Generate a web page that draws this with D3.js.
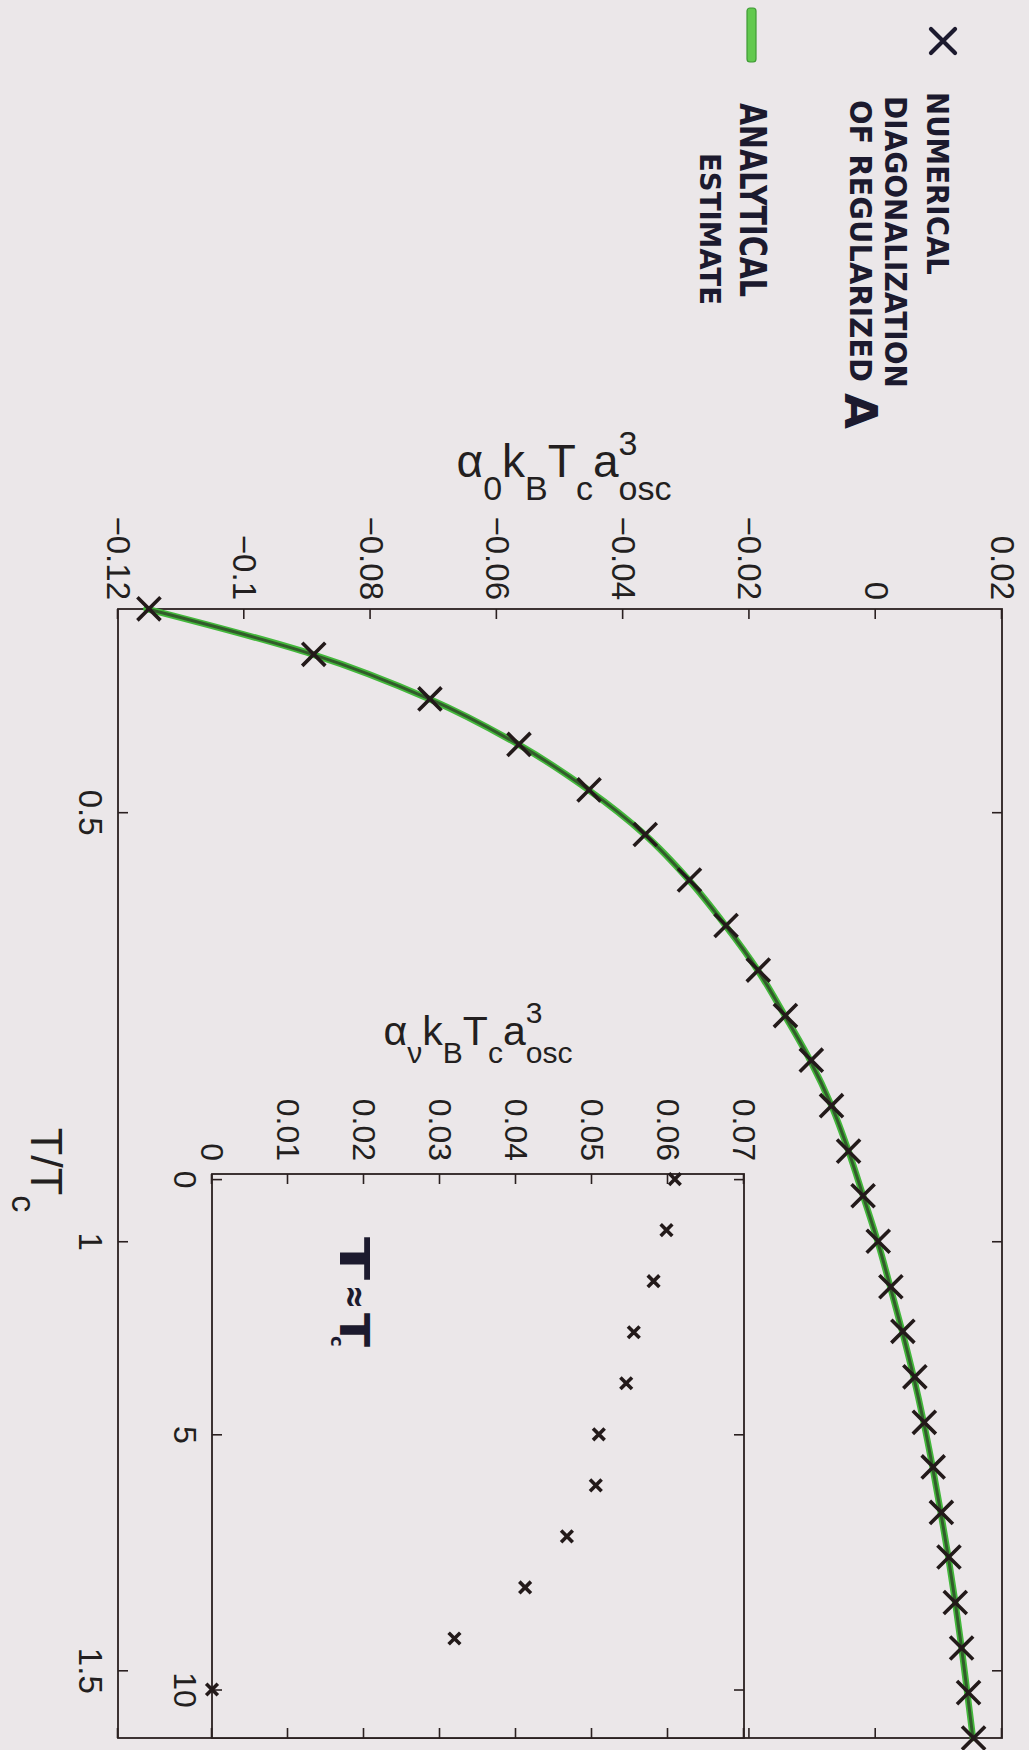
<!DOCTYPE html>
<html>
<head>
<meta charset="utf-8">
<script src="https://cdn.jsdelivr.net/npm/d3@7"></script>
<style>
body { margin: 0; background: #ebe7e9; }
svg { display: block; }
text { font-family: "Liberation Sans", Arial, sans-serif; fill: #231f20; }
.hand { font-family: "DejaVu Sans", sans-serif; fill: #1c1a2e; font-weight: bold; }
</style>
</head>
<body>
<script>
// main plot: T/Tc and alpha_0 kB Tc a^3_osc
const tRatio = [0.263, 0.316, 0.368, 0.421, 0.474, 0.526, 0.579, 0.632, 0.684, 0.737, 0.789, 0.842, 0.895,
    0.947, 1.000, 1.053, 1.105, 1.158, 1.211, 1.263, 1.316, 1.368, 1.421, 1.474, 1.526, 1.579];
const alphaNumeric = [-0.1151, -0.0890, -0.0706, -0.0565, -0.0454, -0.0365, -0.0295, -0.0237, -0.0186, -0.0143,
    -0.0102, -0.0070, -0.0043, -0.0020, 0.0004, 0.0024, 0.0043, 0.0062, 0.0077, 0.0091, 0.0104, 0.0116, 0.0126,
    0.0136, 0.0147, 0.0155];
const alphaAnalytic = [-0.1155, -0.0892, -0.0707, -0.0566, -0.0455, -0.0366, -0.0296, -0.0238, -0.0187, -0.0144,
    -0.0104, -0.0070, -0.0043, -0.0020, 0.0003, 0.0023, 0.0042, 0.0060, 0.0076, 0.0090, 0.0103, 0.0115, 0.0126,
    0.0136, 0.0145, 0.0154];
const mainXTicks = [0.5, 1, 1.5];
const mainYTicks = [-0.12, -0.1, -0.08, -0.06, -0.04, -0.02, 0, 0.02];

// inset: T ~ Tc, alpha_nu kB Tc a^3_osc
const insetT = [0, 1, 2, 3, 4, 5, 6, 7, 8, 9, 10];
const insetAlpha = [0.0609, 0.0598, 0.0581, 0.0555, 0.0545, 0.0509, 0.0505, 0.0467, 0.0412, 0.0319, 0.0000];
const insetXTicks = [0, 5, 10];
const insetYTicks = [0, 0.01, 0.02, 0.03, 0.04, 0.05, 0.06, 0.07];

const W = 1029, H = 1750;
const ink = "#2a2020";
const fmt = d3.format("");

const svg = d3.select("body").append("svg").attr("width", W).attr("height", H);
svg.append("rect").attr("width", W).attr("height", H).attr("fill", "#ebe7e9");

// the page is scanned sideways: draw the chart upright, then turn it 90° clockwise
const page = svg.append("g").attr("transform", `translate(${W},0) rotate(90)`);

// 坐标轴（刻度朝内，四边都有）
function frameAxes(g, x, y, xTicks, yTicks, opt) {
    const [x0, x1] = x.range(), [y0, y1] = y.range();
    g.append("rect").attr("x", x0).attr("y", y1).attr("width", x1 - x0).attr("height", y0 - y1)
        .attr("fill", "#ebe7e9").attr("stroke", ink).attr("stroke-width", 1.8);
    const styleAxis = a => {
        a.select(".domain").remove();
        a.selectAll("line").attr("stroke", ink).attr("stroke-width", 1.6);
        a.selectAll("text").attr("fill", "#231f20").attr("font-size", opt.font)
            .attr("font-family", '"Liberation Sans", Arial, sans-serif');
    };
    g.append("g").attr("transform", `translate(0,${y0})`)
        .call(d3.axisBottom(x).tickValues(xTicks).tickSize(-10).tickSizeOuter(0).tickPadding(opt.xPad).tickFormat(fmt))
        .call(styleAxis);
    g.append("g").attr("transform", `translate(0,${y1})`)
        .call(d3.axisTop(x).tickValues(xTicks).tickSize(-10).tickSizeOuter(0).tickFormat(""))
        .call(styleAxis);
    g.append("g").attr("transform", `translate(${x0},0)`)
        .call(d3.axisLeft(y).tickValues(yTicks).tickSize(-10).tickSizeOuter(0).tickPadding(opt.yPad).tickFormat(fmt))
        .call(styleAxis);
    g.append("g").attr("transform", `translate(${x1},0)`)
        .call(d3.axisRight(y).tickValues(yTicks).tickSize(-10).tickSizeOuter(0).tickFormat(""))
        .call(styleAxis);
}

// TeX-like label: pieces with sub / sup, centred on 0
function texLabel(g, parts, big, small, subDy, supDy) {
    const lab = g.append("g");
    let cursor = 0, supStart = null, supEnd = 0;
    parts.forEach(p => {
        let startX = cursor;
        if (p.sub && supStart !== null) startX = supStart;
        const t = lab.append("text").attr("x", startX)
            .attr("y", p.sub ? subDy : p.sup ? -supDy : 0)
            .attr("font-size", p.sub || p.sup ? small : big)
            .text(p.t);
        const w = t.node().getComputedTextLength();
        if (p.sup) { supStart = startX; supEnd = startX + w; cursor = startX + w; }
        else if (p.sub && supStart !== null) { cursor = Math.max(supEnd, startX + w); supStart = null; }
        else cursor = startX + w;
    });
    lab.attr("transform", `translate(${-cursor / 2},0)`);
    return lab;
}

// ---------- main plot ----------
const x = d3.scaleLinear().domain([0.2632, 1.5789]).range([609, 1738]);
const y = d3.scaleLinear().domain([-0.12, 0.02]).range([911, 27]);
const main = page.append("g");
frameAxes(main, x, y, mainXTicks, mainYTicks, { font: 33, xPad: 16, yPad: 9 });

const line = d3.line().x((d, i) => x(tRatio[i])).y(d => y(d)).curve(d3.curveMonotoneX);
main.append("path").datum(alphaAnalytic).attr("d", line)
    .attr("fill", "none").attr("stroke", "#44b83c").attr("stroke-width", 6.5).attr("stroke-linecap", "round");
main.append("path").datum(alphaAnalytic).attr("d", line)
    .attr("fill", "none").attr("stroke", "#2f4a28").attr("stroke-width", 3).attr("stroke-opacity", 0.85);

const bigX = d3.symbol(d3.symbolTimes, 350);
main.append("g").selectAll("path").data(alphaNumeric).join("path")
    .attr("transform", (d, i) => `translate(${x(tRatio[i])},${y(d)})`)
    .attr("d", bigX).attr("fill", "none").attr("stroke", "#231a1a").attr("stroke-width", 3.6);

// axis titles
const yTitle = main.append("g").attr("transform", `translate(477,${(y.range()[0] + y.range()[1]) / 2 - 4}) rotate(-90)`);
texLabel(yTitle, [{ t: "α" }, { t: "0", sub: true }, { t: "k" }, { t: "B", sub: true }, { t: "T" }, { t: "c", sub: true },
    { t: "a" }, { t: "3", sup: true }, { t: "osc", sub: true }], 46, 34, 23, 22);
const xTitle = main.append("g").attr("transform", `translate(1170,998)`);
texLabel(xTitle, [{ t: "T/T" }, { t: "c", sub: true }], 45, 34, 19, 0);

// ---------- inset ----------
const xi = d3.scaleLinear().domain([-0.1, 10.95]).range([1174, 1738]);
const yi = d3.scaleLinear().domain([0, 0.07]).range([817, 285]);
const inset = page.append("g");
frameAxes(inset, xi, yi, insetXTicks, insetYTicks, { font: 32, xPad: 15, yPad: 13 });

const smallX = d3.symbol(d3.symbolTimes, 90);
inset.append("g").selectAll("path").data(insetAlpha).join("path")
    .attr("transform", (d, i) => `translate(${xi(insetT[i])},${yi(d)})`)
    .attr("d", smallX).attr("fill", "none").attr("stroke", "#231a1a").attr("stroke-width", 3.6);

const iTitle = inset.append("g").attr("transform", `translate(1045,${(yi.range()[0] + yi.range()[1]) / 2}) rotate(-90)`);
texLabel(iTitle, [{ t: "α" }, { t: "ν", sub: true }, { t: "k" }, { t: "B", sub: true }, { t: "T" }, { t: "c", sub: true },
    { t: "a" }, { t: "3", sup: true }, { t: "osc", sub: true }], 41, 30, 18, 22);

// handwritten note inside the inset
const note = inset.append("g");
note.append("text").attr("class", "hand").attr("x", 1237).attr("y", 689).attr("font-size", 40)
    .attr("textLength", 43).attr("lengthAdjust", "spacingAndGlyphs").text("T");
note.append("text").attr("class", "hand").attr("x", 1285).attr("y", 686).attr("font-size", 36)
    .attr("textLength", 24).attr("lengthAdjust", "spacingAndGlyphs").text("≈");
note.append("text").attr("class", "hand").attr("x", 1313).attr("y", 689).attr("font-size", 40)
    .attr("textLength", 34).attr("lengthAdjust", "spacingAndGlyphs").text("T");
note.append("text").attr("class", "hand").attr("x", 1336).attr("y", 698).attr("font-size", 18)
    .text("c");

// ---------- handwritten legend ----------
const legend = page.append("g");
legend.append("path").attr("transform", "translate(41,86)").attr("d", d3.symbol(d3.symbolTimes, 380))
    .attr("fill", "none").attr("stroke", "#1c1a2e").attr("stroke-width", 4.2).attr("stroke-linecap", "round");
legend.append("rect").attr("x", 8).attr("y", 273).attr("width", 54).attr("height", 9).attr("rx", 3)
    .attr("fill", "#62c94e").attr("stroke", "#3f9a35").attr("stroke-width", 1.2);

const legendLines = [
    { t: "NUMERICAL", x: 92, y: 102, len: 183, size: 30 },
    { t: "DIAGONALIZATION", x: 96, y: 144, len: 292, size: 30 },
    { t: "OF  REGULARIZED", x: 100, y: 179, len: 282, size: 30 },
    { t: "A", x: 393, y: 184, len: 36, size: 45 },
    { t: "ANALYTICAL", x: 103, y: 289, len: 194, size: 37 },
    { t: "ESTIMATE", x: 153, y: 329, len: 152, size: 29 }
];
legend.selectAll("text").data(legendLines).join("text")
    .attr("class", "hand")
    .attr("x", d => d.x).attr("y", d => d.y)
    .attr("font-size", d => d.size)
    .attr("textLength", d => d.len).attr("lengthAdjust", "spacingAndGlyphs")
    .text(d => d.t);
</script>
</body>
</html>
